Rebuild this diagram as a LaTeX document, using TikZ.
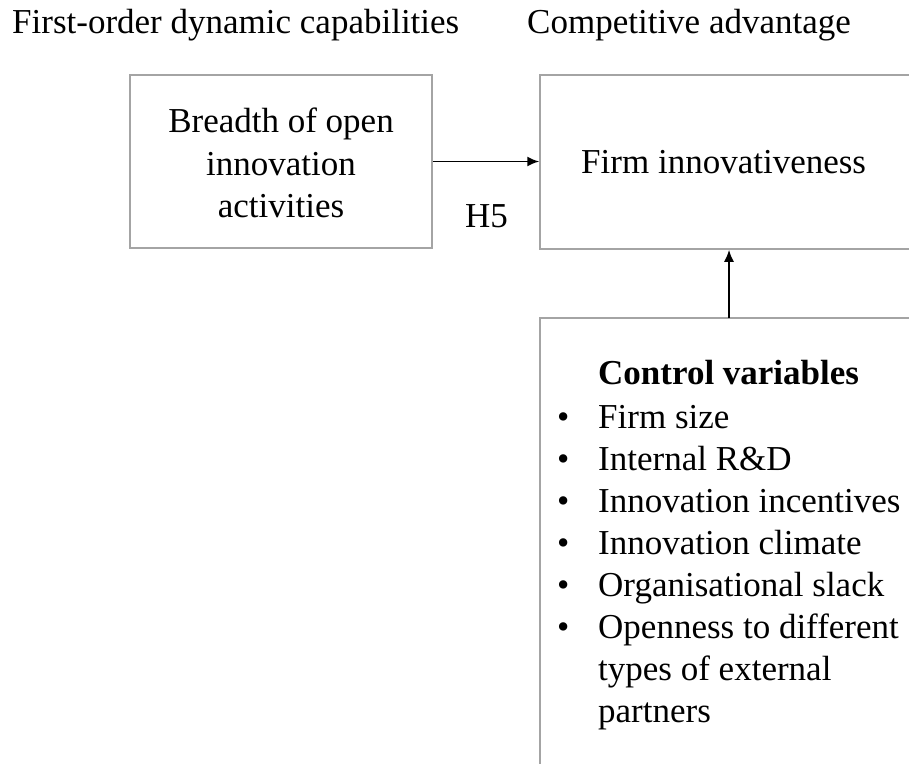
\documentclass[tikz,border=0pt]{standalone}
\usepackage{fontspec}
\setmainfont{Liberation Serif}
\usetikzlibrary{arrows.meta}
\begin{document}
\begin{tikzpicture}[x=1pt,y=-1pt,
  box/.style={draw=boxgray,line width=1.5pt,inner sep=0pt},
  txt/.style={inner sep=0pt,font=\fontsize{35}{42.5}\selectfont},
  link/.style={line width=1.8pt,-{Latex[length=12pt,width=10pt]}}]
\definecolor{boxgray}{HTML}{A4A4A4}
\useasboundingbox (0,0) rectangle (909,763);
\clip (0,0) rectangle (909,763);
% column headings
\node[txt,anchor=base west] (h1) at (12,33) {First-order dynamic capabilities};
\node[txt,anchor=base west] (h2) at (527,33) {Competitive advantage};
% boxes
\node[box,minimum width=302pt,minimum height=173pt] (A) at (281,161.5) {};
\node[box,minimum width=380pt,minimum height=174pt] (B) at (730,162) {};
\node[box,minimum width=400pt,minimum height=500pt] (C) at (740,568) {};
% box texts
\node[txt,align=center] (At) at (281,163) {Breadth of open\\innovation\\activities};
\node[txt,anchor=base west] (Bt) at (581,173) {Firm innovativeness};
\node[txt,anchor=base west] (h5) at (465,227) {H5};
\node[txt,font=\fontsize{35}{42}\selectfont,anchor=north west,align=left] (Ct) at (556,360)
  {\hspace*{42pt}\textbf{Control variables}\\[2pt]
   \makebox[42pt][l]{\hspace*{1pt}•}Firm size\\
   \makebox[42pt][l]{\hspace*{1pt}•}Internal R\&D\\
   \makebox[42pt][l]{\hspace*{1pt}•}Innovation incentives\\
   \makebox[42pt][l]{\hspace*{1pt}•}Innovation climate\\
   \makebox[42pt][l]{\hspace*{1pt}•}Organisational slack\\
   \makebox[42pt][l]{\hspace*{1pt}•}Openness to different\\
   \hspace*{42pt}types of external\\
   \hspace*{42pt}partners};
% connectors
\draw[link] (A.east) -- (A.east -| B.west);
\coordinate (cv) at (729,318);
\draw[link] (cv) -- (cv |- B.south);
\end{tikzpicture}
\end{document}
